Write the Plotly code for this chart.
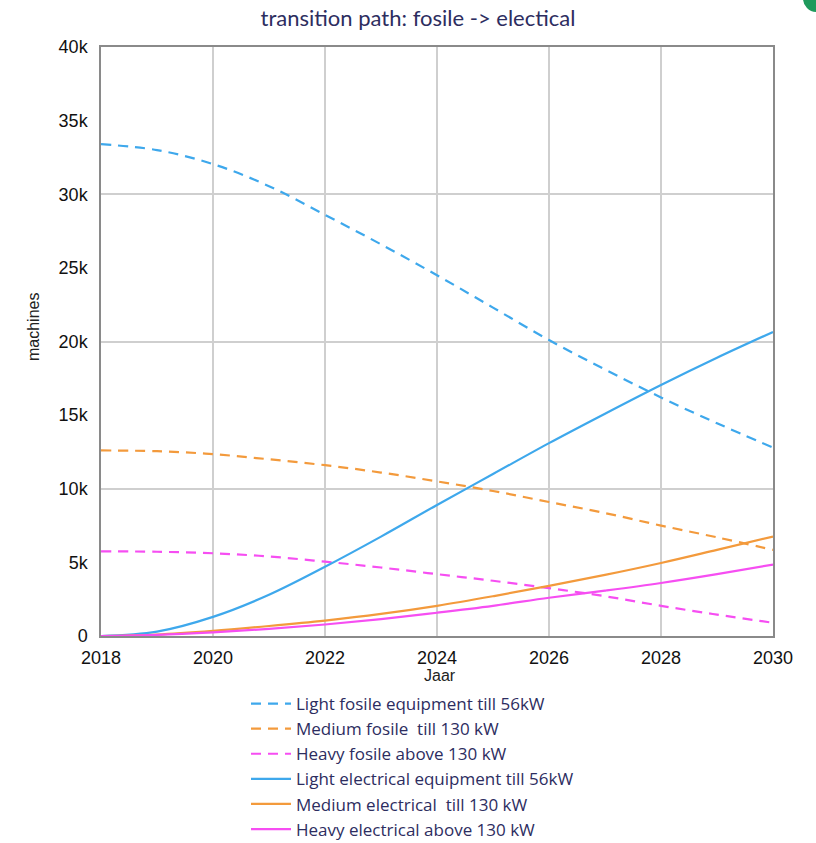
import plotly.graph_objects as go

years = [2018, 2019, 2020, 2021, 2022, 2023, 2024, 2025, 2026, 2027, 2028, 2029, 2030]

light_fosile = [33400, 33000, 32050, 30550, 28600, 26600, 24500, 22300, 20100, 18100, 16200, 14450, 12800]
medium_fosile = [12600, 12550, 12350, 12000, 11600, 11100, 10500, 9850, 9100, 8350, 7500, 6700, 5850]
heavy_fosile = [5750, 5720, 5620, 5400, 5050, 4650, 4200, 3750, 3250, 2700, 2050, 1450, 900]
light_el = [0, 300, 1300, 2800, 4700, 6750, 8900, 11000, 13100, 15100, 17050, 18900, 20650]
medium_el = [0, 100, 350, 680, 1050, 1500, 2050, 2700, 3400, 4150, 4960, 5850, 6750]
heavy_el = [0, 80, 250, 480, 780, 1150, 1580, 2050, 2600, 3080, 3600, 4200, 4850]

names = [
    "Light fosile equipment till 56kW",
    "Medium fosile  till 130 kW",
    "Heavy fosile above 130 kW",
    "Light electrical equipment till 56kW",
    "Medium electrical  till 130 kW",
    "Heavy electrical above 130 kW",
]
series = [light_fosile, medium_fosile, heavy_fosile, light_el, medium_el, heavy_el]
colors = ["#3ea8ec", "#f39a3c", "#f64ef2", "#3ea8ec", "#f39a3c", "#f64ef2"]
dashes = ["10px,7px", "10px,7px", "10px,7px", "solid", "solid", "solid"]

y_ticks = [0, 5000, 10000, 15000, 20000, 25000, 30000, 35000, 40000]
y_ticktext = ["0", "5k", "10k", "15k", "20k", "25k", "30k", "35k", "40k"]
x_ticks = [2018, 2020, 2022, 2024, 2026, 2028, 2030]
x_title = "Jaar"
y_title = "machines"

fig = go.Figure()
for name, vals, col, dsh in zip(names, series, colors, dashes):
    fig.add_trace(go.Scatter(
        x=years, y=vals, name=name, mode="lines",
        line=dict(color=col, width=2.2, dash=dsh, shape="spline", smoothing=1.0),
    ))

# invisible trace on secondary y-axis to carry 10k gridlines
fig.add_trace(go.Scatter(x=[2018], y=[0], yaxis="y2", showlegend=False,
                         mode="markers", marker=dict(opacity=0), hoverinfo="skip"))

tick_font = dict(family="Liberation Sans, Arial", size=18, color="#111111")
title_font = dict(family="Liberation Sans, Arial", size=16, color="#222222")
navy = "#2d2d5f"

fig.update_layout(
    width=816, height=843,
    margin=dict(l=101, r=43, t=47, b=207, autoexpand=False),
    paper_bgcolor="white", plot_bgcolor="white",
    title=dict(text="transition path: fosile -> electical",
               font=dict(family="Lato", size=22, color=navy),
               x=418 / 816, xanchor="center", y=1 - 18 / 843, yanchor="middle"),
    xaxis=dict(range=[2018, 2030], tickvals=x_ticks, tickfont=tick_font,
               showgrid=True, gridcolor="#cfcfcf", gridwidth=1.5,
               showline=True, linecolor="#8a8a8a", linewidth=1.5, mirror=True,
               ticks="", zeroline=False, ticklabelstandoff=5),
    yaxis=dict(range=[0, 40000], tickvals=y_ticks, ticktext=y_ticktext, tickfont=tick_font,
               showgrid=False, showline=True, linecolor="#8a8a8a", linewidth=1.5, mirror=True,
               ticks="", zeroline=False, ticklabelstandoff=8),
    yaxis2=dict(range=[0, 40000], overlaying="y", dtick=10000, showgrid=True,
                gridcolor="#cfcfcf", gridwidth=1.5, showticklabels=False, zeroline=False,
                layer="below traces"),
    legend=dict(xref="container", yref="container",
                x=246 / 816, xanchor="left", y=1 - 686 / 843, yanchor="top",
                font=dict(family="Open Sans", size=17, color=navy),
                bgcolor="rgba(255,255,255,0)", itemwidth=40, tracegroupgap=0),
    showlegend=True,
)

fig.add_annotation(text=y_title, xref="paper", yref="paper",
                   x=(33 - 101) / 672, y=(636 - 327) / 589, textangle=-90,
                   showarrow=False, font=title_font, xanchor="center", yanchor="middle")
fig.add_annotation(text=x_title, xref="paper", yref="paper",
                   x=(440 - 101) / 672, y=(636 - 675) / 589,
                   showarrow=False, font=title_font, xanchor="center", yanchor="middle")

fig.add_shape(type="circle", xref="paper", yref="paper",
              x0=(803 - 101) / 672, x1=(830 - 101) / 672,
              y0=(636 - (-15)) / 589, y1=(636 - 12) / 589,
              fillcolor="#1f9a5c", line=dict(width=0))

fig.write_html("out.html")
